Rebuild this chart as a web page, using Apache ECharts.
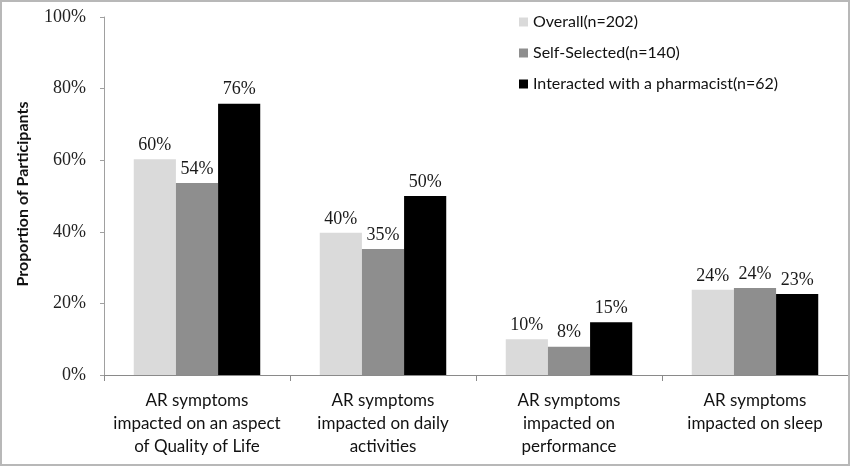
<!DOCTYPE html>
<html>
<head>
<meta charset="utf-8">
<script src="https://cdn.jsdelivr.net/npm/echarts@6/dist/echarts.min.js"></script>
<style>
html,body{margin:0;padding:0;background:#fff;}
#wrap{position:relative;width:850px;height:466px;}
#chart{position:absolute;left:0;top:0;width:850px;height:466px;}
#frame{position:absolute;left:0;top:0;width:850px;height:466px;box-sizing:border-box;border:2px solid #b8b8b8;pointer-events:none;}
</style>
</head>
<body>
<div id="wrap"><div id="chart"></div><div id="frame"></div></div>
<script>
var categories = [
  "AR symptoms\nimpacted on an aspect\nof Quality of Life",
  "AR symptoms\nimpacted on daily\nactivities",
  "AR symptoms\nimpacted on\nperformance",
  "AR symptoms\nimpacted on sleep"
];
var seriesNames = ["Overall(n=202)", "Self-Selected(n=140)", "Interacted with a pharmacist(n=62)"];
var overall = [60.3, 39.7, 10.0, 23.8];
var selfSelected = [53.6, 35.2, 7.9, 24.3];
var pharmacist = [75.8, 50.0, 14.7, 22.6];
var yTicks = [0, 20, 40, 60, 80, 100];
var colors = ["#dadada", "#8e8e8e", "#000000"];

var chart = echarts.init(document.getElementById('chart'));
var labelStyle = {
  show: true, position: 'top', distance: 5,
  fontFamily: 'Liberation Serif', fontSize: 18, color: '#1a1a1a',
  formatter: function (p) { return Math.round(p.value) + '%'; }
};
function mk(name, data, color) {
  return {
    name: name, type: 'bar', data: data,
    barGap: '0%', barCategoryGap: '32%',
    itemStyle: { color: color },
    label: labelStyle
  };
}
chart.setOption({
  animation: false,
  color: colors,
  grid: { left: 104, right: 2, top: 17, bottom: 91, containLabel: false },
  legend: {
    orient: 'vertical', left: 514, top: 8,
    itemWidth: 9, itemHeight: 9, itemGap: 13,
    icon: 'rect',
    textStyle: { fontFamily: 'Lato', fontSize: 16, color: '#111', lineHeight: 18, padding: [0, 0, 0, 0] },
    data: seriesNames
  },
  xAxis: {
    type: 'category', data: categories,
    axisLine: { lineStyle: { color: '#8a8a8a', width: 1 } },
    axisTick: { show: true, length: 6, lineStyle: { color: '#8a8a8a' } },
    axisLabel: { interval: 0, fontFamily: 'Lato', fontSize: 17, color: '#111', lineHeight: 23, margin: 14 }
  },
  yAxis: {
    type: 'value', min: 0, max: 100, interval: 20,
    axisLine: { show: true, lineStyle: { color: '#a0a0a0' } },
    axisTick: { show: true, length: 4, lineStyle: { color: '#a0a0a0' } },
    splitLine: { show: false },
    axisLabel: {
      fontFamily: 'Liberation Serif', fontSize: 18, color: '#222', margin: 18,
      formatter: function (v) { return yTicks.indexOf(v) >= 0 ? v + '%' : ''; }
    }
  },
  graphic: [{
    type: 'text', x: 23, y: 194, rotation: Math.PI / 2,
    style: {
      text: 'Proportion of Participants', fontFamily: 'Lato', fontWeight: 'bold',
      fontSize: 16, fill: '#111', textAlign: 'center', textVerticalAlign: 'middle'
    }
  }],
  series: [
    mk(seriesNames[0], overall, colors[0]),
    mk(seriesNames[1], selfSelected, colors[1]),
    mk(seriesNames[2], pharmacist, colors[2])
  ]
});
</script>
</body>
</html>
